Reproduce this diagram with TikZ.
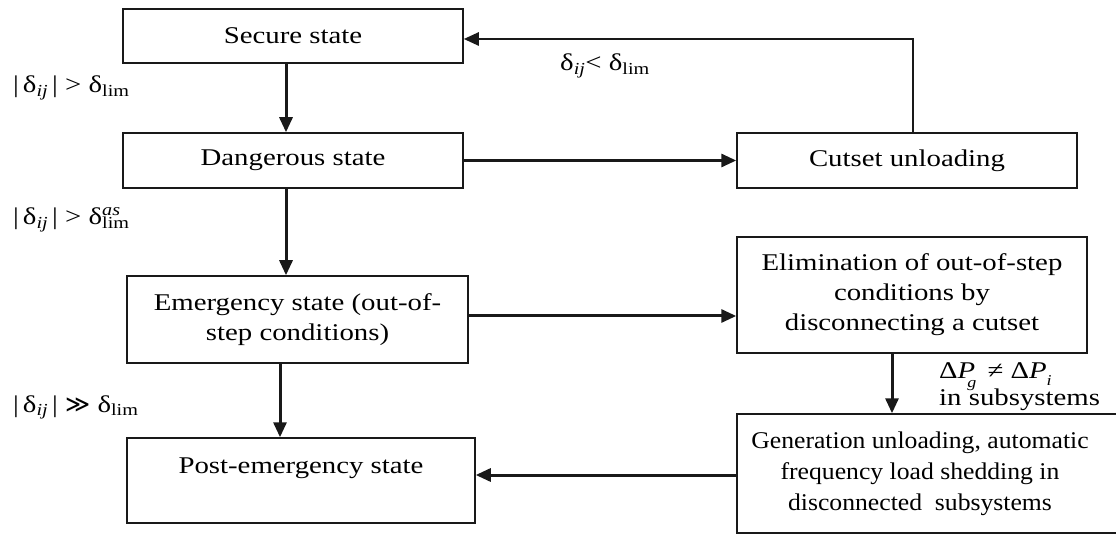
\documentclass[tikz,border=0pt]{standalone}
\usepackage{fontspec}
\setmainfont{Liberation Serif}[FakeStretch=1.2]
\newfontfamily\genfont{Liberation Serif}[FakeStretch=1.07]
\newfontfamily\symfnt{DejaVu Sans}
\usetikzlibrary{arrows.meta}
\newcommand{\dij}{δ\textsubscript{\textit{ij}}}
\newcommand{\dlim}{δ\textsubscript{lim}}
\begin{document}
\begin{tikzpicture}[x=1pt,y=-1pt,
  box/.style={draw=black!90, line width=1.5pt, align=center, inner sep=0pt,
    font=\fontsize{24}{30}\selectfont},
  arr/.style={draw=black!90, line width=3pt, -{Triangle[length=15pt,width=13pt]}},
  fb/.style={draw=black!90, line width=2.5pt, -{Triangle[length=15pt,width=13pt]}},
  lab/.style={anchor=base west, inner sep=0pt, font=\fontsize{24}{28}\selectfont}]
\useasboundingbox (0,0) rectangle (1116,534);

\node[box, minimum width=340pt, minimum height=54pt] (secure) at (293,36) {Secure state};
\node[box, minimum width=340pt, minimum height=55pt] (danger) at (293,160.5) {Dangerous state};
\node[box, minimum width=340pt, minimum height=55pt] (cutset) at (907,160.5) {Cutset unloading};
\node[box, minimum width=350pt, minimum height=116pt] (elim) at (912,295)
  {Elimination of out-of-step\\conditions by\\disconnecting a cutset};
\node[box, minimum width=341pt, minimum height=87pt] (emerg) at (297.5,319.5)
  {Emergency state (out-of-\\step conditions)};
\node[box, minimum width=348pt, minimum height=85pt] (post) at (301,480.5)
  {Post-emergency state\\\mbox{}};
\node[box, minimum width=400pt, minimum height=119pt, font=\genfont\fontsize{24}{31}\selectfont] (gen) at (937,473.5)
  {\hspace*{-34pt}Generation unloading, automatic\\\hspace*{-34pt}frequency load shedding in\\\hspace*{-34pt}disconnected\ \ subsystems};

% connectors
\draw[arr] ([xshift=-7pt]secure.south) -- ([xshift=-7pt]danger.north);
\draw[arr] ([xshift=-7pt]danger.south) -- ([xshift=-7pt]danger.south |- emerg.north);
\draw[arr] ([xshift=-17.5pt]emerg.south) -- ([xshift=-17.5pt]emerg.south |- post.north);
\draw[arr] (danger.east) -- (cutset.west);
\draw[arr] ([yshift=3.5pt]emerg.east) -- ([yshift=3.5pt]emerg.east -| elim.west);
\draw[fb] ([xshift=6pt]cutset.north) |- ([yshift=-3pt]secure.east);
\draw[arr] ([xshift=-20pt]elim.south) -- ([xshift=-20pt]elim.south |- gen.north);
\draw[arr] ([yshift=-1.5pt]gen.west) -- ([yshift=-1.5pt]gen.west -| post.east);

% labels
\node[lab] (l1) at (13,93) {|\,\dij\,| > \dlim};
\node[lab] (l2) at (13,225) {|\,\dij\,| > δ\rlap{\textsuperscript{\textit{as}}}\textsubscript{lim}};
\node[lab] (l3) at (13,412) {|\,\dij\,| {\symfnt ≫} \dlim};
\node[lab] (l4) at (560,71) {\dij< \dlim};
\node[lab] (l5) at (939,378) {Δ\textit{P}\kern-8pt\raisebox{-9pt}{\fontsize{15}{15}\selectfont\textit{g}}\kern4pt\ ≠ Δ\textit{P}\raisebox{-7pt}{\fontsize{15}{15}\selectfont\textit{i}}};
\node[lab] (l6) at (939,405) {in subsystems};
\end{tikzpicture}
\end{document}
